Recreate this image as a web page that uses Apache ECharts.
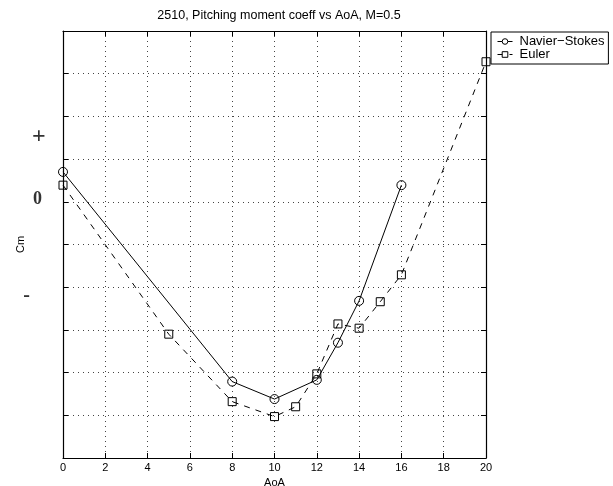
<!DOCTYPE html>
<html>
<head>
<meta charset="utf-8">
<script src="https://cdn.jsdelivr.net/npm/echarts@6/dist/echarts.min.js"></script>
<style>html,body{margin:0;padding:0;background:#fff}#c{width:613px;height:486px}</style>
</head>
<body>
<div id="c"></div>
<script>
var xTicks = [0, 2, 4, 6, 8, 10, 12, 14, 16, 18, 20];
var nsAoA = [0, 8, 10, 12, 13, 14, 16];
var nsCm = [0.70, -4.21, -4.62, -4.17, -3.30, -2.32, 0.39];
var eulerAoA = [0, 5, 8, 10, 11, 12, 13, 14, 15, 16, 20];
var eulerCm = [0.39, -3.10, -4.68, -5.03, -4.80, -4.03, -2.86, -2.96, -2.34, -1.71, 3.28];
var sideLabels = [{t: '+', x: 40, y: 137, s: 24}, {t: '0', x: 39, y: 199, s: 18}, {t: '-', x: 30, y: 296, s: 20}];

var font = 'Liberation Sans, Arial, Helvetica, sans-serif';
var chart = echarts.init(document.getElementById('c'), null, {renderer: 'canvas'});
function pairs(xs, ys) { return xs.map(function (x, i) { return [x, ys[i]]; }); }
var gridStyle = {show: true, lineStyle: {color: '#444', type: [1, 4], width: 1}};
var axisLine = {show: true, onZero: false, lineStyle: {color: '#000', width: 1.2}};
var tick = {show: true, inside: true, length: 5, lineStyle: {color: '#000'}};
chart.setOption({
  animation: false,
  backgroundColor: '#fff',
  title: {
    text: '2510, Pitching moment coeff vs AoA, M=0.5',
    left: 274, top: 4, textAlign: 'center',
    textStyle: {fontFamily: font, fontSize: 12.5, fontWeight: 'normal', color: '#000'}
  },
  legend: {
    orient: 'vertical', left: 491, top: 32,
    backgroundColor: '#fff', borderColor: '#000', borderWidth: 1,
    padding: [3, 4, 3, 6], itemGap: 0, itemWidth: 15, itemHeight: 7,
    lineStyle: {width: 1},
    itemStyle: {borderWidth: 1, color: '#fff', borderColor: '#000'},
    textStyle: {fontFamily: font, fontSize: 13, color: '#000', padding: [0, 0, 0, 2]},
    data: ['Navier\u2212Stokes', 'Euler']
  },
  grid: {left: 63, top: 31, width: 423, height: 427, containLabel: false, outerBoundsMode: 'none'},
  xAxis: [{
    type: 'value', min: 0, max: 20, interval: 2, position: 'bottom',
    name: 'AoA', nameLocation: 'middle', nameGap: 19,
    nameTextStyle: {fontFamily: font, fontSize: 11, color: '#000'},
    axisLine: axisLine, axisTick: tick, splitLine: gridStyle,
    axisLabel: {fontFamily: font, fontSize: 11, color: '#000', margin: 4}
  }, {
    type: 'value', min: 0, max: 20, interval: 2, position: 'top',
    axisLine: axisLine, axisTick: tick, splitLine: {show: false}, axisLabel: {show: false}
  }],
  yAxis: [{
    type: 'value', min: -6, max: 4, interval: 1, position: 'left',
    name: 'Cm', nameLocation: 'middle', nameGap: 37, nameRotate: 90,
    nameTextStyle: {fontFamily: font, fontSize: 11, color: '#000'},
    axisLine: axisLine, axisTick: tick, splitLine: gridStyle, axisLabel: {show: false}
  }, {
    type: 'value', min: -6, max: 4, interval: 1, position: 'right',
    axisLine: axisLine, axisTick: tick, splitLine: {show: false}, axisLabel: {show: false}
  }],
  graphic: sideLabels.map(function (l) {
    return {type: 'text', left: l.x - l.s / 3, top: l.y - l.s / 2,
      style: {text: l.t, font: 'bold ' + l.s + 'px "Liberation Serif", "DejaVu Serif", serif', fill: '#333'}};
  }),
  series: [{
    name: 'Navier\u2212Stokes', type: 'line', data: pairs(nsAoA, nsCm),
    symbol: 'circle', symbolSize: 9, clip: false,
    lineStyle: {color: '#000', width: 1, type: 'solid'},
    itemStyle: {color: 'transparent', borderColor: '#000', borderWidth: 1}
  }, {
    name: 'Euler', type: 'line', data: pairs(eulerAoA, eulerCm),
    symbol: 'rect', symbolSize: 8, clip: false,
    lineStyle: {color: '#000', width: 1, type: [6, 6]},
    itemStyle: {color: 'transparent', borderColor: '#000', borderWidth: 1}
  }]
});
</script>
</body>
</html>
